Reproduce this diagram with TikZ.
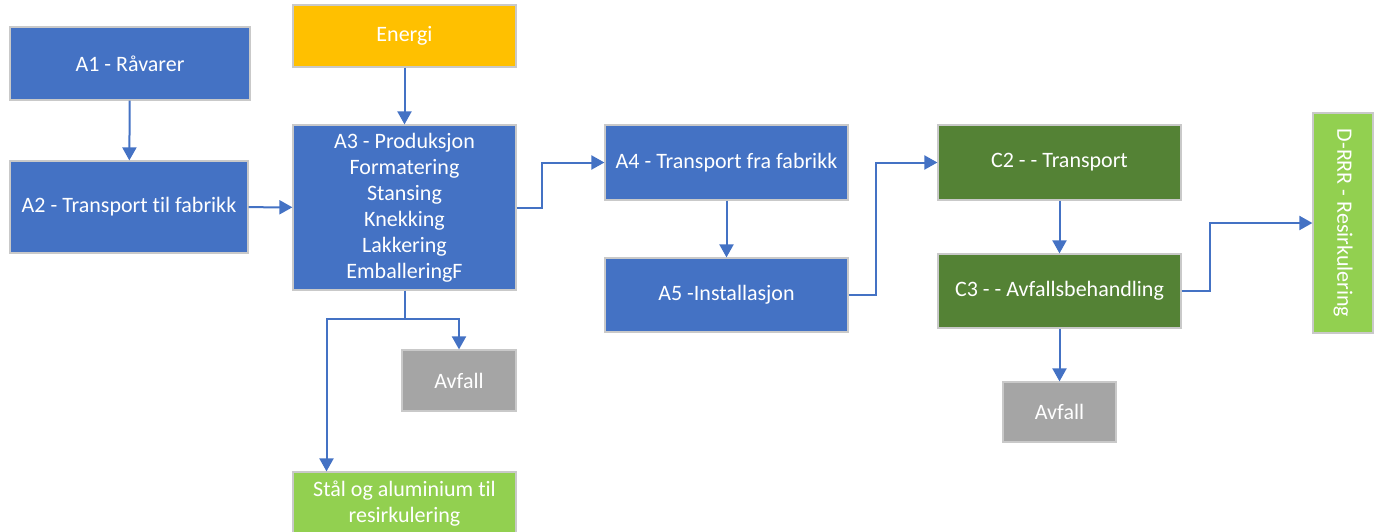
\documentclass[tikz,border=0pt]{standalone}
\usepackage{fontspec}
\setmainfont{Carlito}[Ligatures=NoCommon]
\usetikzlibrary{arrows.meta}

\definecolor{fase}{HTML}{4472C4}
\definecolor{energi}{HTML}{FFC000}
\definecolor{avfall}{HTML}{A5A5A5}
\definecolor{slutt}{HTML}{548235}
\definecolor{gjenvinn}{HTML}{92D050}
\definecolor{kant}{HTML}{C9C9C9}

\begin{document}
\begin{tikzpicture}[x=0.5pt,y=-0.5pt,>/.tip={Triangle[length=6.5pt,width=7pt]},
	boks/.style={draw=kant,line width=0.6pt,text=white,inner sep=0pt,align=center,
		font=\fontsize{11}{13}\selectfont},
	pil/.style={->,draw=fase,line width=1pt}]
	\useasboundingbox (0,0) rectangle (1383,531);
	\draw (130,63.5) node (a1) [boks,fill=fase,minimum width=120pt,minimum height=36.5pt] {A1 - Råvarer};
	\draw (404.5,36) node (energi) [boks,fill=energi,minimum width=111.5pt,minimum height=31pt] {Energi};
	\draw (129,207) node (a2) [boks,fill=fase,minimum width=119pt,minimum height=46pt] {A2 - Transport til fabrikk};
	\draw (404.5,207.5) node (a3) [boks,fill=fase,minimum width=111.5pt,minimum height=82.5pt] {A3 - Produksjon\\Formatering\\Stansing\\Knekking\\Lakkering\\EmballeringF};
	\draw (459,380.5) node (avfall1) [boks,fill=avfall,minimum width=57pt,minimum height=30.5pt] {Avfall};
	\draw (404.5,504) node (staal) [boks,fill=gjenvinn,minimum width=111.5pt,minimum height=32pt] {Stål og aluminium til\\resirkulering};
	\draw (726.5,162.5) node (a4) [boks,fill=fase,minimum width=121.5pt,minimum height=37.5pt] {A4 - Transport fra fabrikk};
	\draw (726.5,295) node (a5) [boks,fill=fase,minimum width=121.5pt,minimum height=37pt] {A5 -Installasjon};
	\draw (1059.5,162.5) node (c2) [boks,fill=slutt,minimum width=121.5pt,minimum height=37.5pt] {C2 - - Transport};
	\draw (1059.5,291) node (c3) [boks,fill=slutt,minimum width=121.5pt,minimum height=37pt] {C3 - - Avfallsbehandling};
	\draw (1059.5,412) node (avfall2) [boks,fill=avfall,minimum width=56.5pt,minimum height=30pt] {Avfall};
	\draw (1343,223) node (drrr) [boks,fill=gjenvinn,minimum width=30pt,minimum height=110pt] {};
	\node [text=white,rotate=-90,font=\fontsize{11}{13}\selectfont] at (drrr.center) {D-RRR - Resirkulering};
	\path[pil] (a1) -- (a2);
	\path[pil] (energi) -- (a3);
	\path[pil] (a2) -- (a3);
	\path[pil] (a3.east) -- ++(25,0) |- (a4.west);
	\path[pil] (a4) -- (a5);
	\path[pil] (a5.east) -- ++(27,0) |- (c2.west);
	\path[pil] (c2) -- (c3);
	\path[pil] (c3) -- (avfall2);
	\path[pil] (c3.east) -- ++(28,0) |- (drrr.west);
	\path[pil] (a3.south) -- ++(0,28) coordinate (deling) -| (avfall1.north);
	\path[pil] (deling) -| ([xshift=-39pt]staal.north);
\end{tikzpicture}
\end{document}
